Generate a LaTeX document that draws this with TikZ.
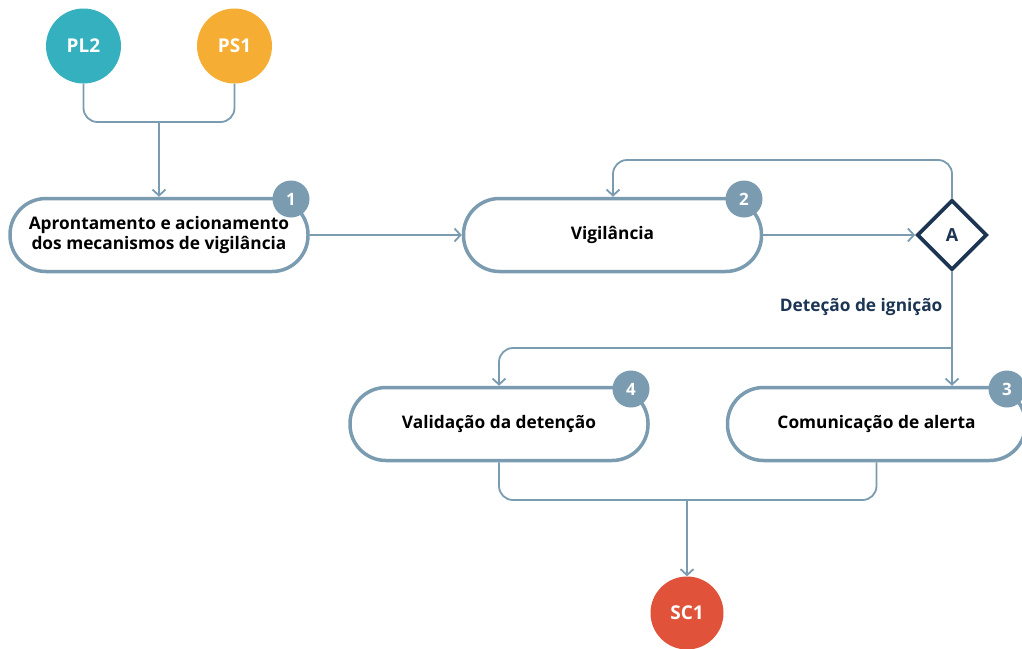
\documentclass[tikz,border=0pt]{standalone}
\usepackage{fontspec}
\setmainfont{Open Sans}[BoldFont={* Bold}]
\usetikzlibrary{arrows.meta,shapes.geometric}
\definecolor{slate}{HTML}{7A9BB0}
\definecolor{navy}{HTML}{1C3553}
\definecolor{teal}{HTML}{34B0BF}
\definecolor{orng}{HTML}{F5AD33}
\definecolor{redd}{HTML}{E0533A}
\tikzset{
  stepbox/.style={draw=slate, line width=3.5pt, fill=white, rounded corners=36pt,
    minimum width=298pt, minimum height=73pt, align=center, font=\bfseries\fontsize{17.3}{21}\selectfont, text=black, inner sep=0pt},
  badge/.style={circle, fill=slate, minimum size=37pt, inner sep=0pt, text=white, font=\bfseries\fontsize{17}{17}\selectfont},
  term/.style={circle, minimum size=75pt, inner sep=0pt, text=white, font=\bfseries\fontsize{19}{19}\selectfont},
  conn/.style={draw=slate, line width=1.8pt, rounded corners=14pt},
  arr/.style={-{Straight Barb[length=6pt,width=13pt,line width=1.8pt]}},
  dec/.style={diamond, draw=navy, line width=3.8pt, fill=white, minimum width=70pt, minimum height=70pt, inner sep=0pt, text=navy, font=\bfseries\fontsize{18}{18}\selectfont}
}
\begin{document}
\begin{tikzpicture}[x=1pt,y=-1pt]
\useasboundingbox (0,0) rectangle (1022,648);
\begin{scope}
\clip (0,0) rectangle (1022,648);
% terminals
\node[term, fill=teal] (pl2) at (83.5,46) {PL2};
\node[term, fill=orng] (ps1) at (234.5,46) {PS1};
\node[term, fill=redd, minimum size=73pt] (sc1) at (687,613) {SC1};
% boxes
\node[stepbox] (b1) at (159,235) {\raisebox{-1.5pt}{\begin{tabular}{@{}c@{}}Aprontamento e acionamento\\[-1pt]dos mecanismos de vigilância\end{tabular}}};
\node[stepbox] (b2) at (612.5,235) {\raisebox{-2pt}{Vigilância}};
\node[stepbox] (b4) at (499,424) {\raisebox{-2pt}{Validação da detenção}};
\node[stepbox] (b3) at (876.5,424) {\raisebox{-2pt}{Comunicação de alerta}};
\node[dec] (a) at (952,235) {A};
% badges
\node[badge] (n1) at (291,199) {1};
\node[badge] (n2) at (744,199) {2};
\node[badge] (n4) at (631,389) {4};
\node[badge] (n3) at (1007,389) {3};
% connectors
\coordinate (j1) at (159,122);
\draw[conn] (pl2.south) |- (j1) -| (ps1.south);
\draw[conn,arr] (j1) -- (b1.north);
\draw[conn,arr] (b1.east) -- (b2.west);
\draw[conn,arr] (b2.east) -- (a.west);
\coordinate (lp) at (613,160);
\draw[conn,arr] (a.north) |- (lp) -- ([xshift=0.5pt]b2.north);
\draw[conn,arr] (a.south) -- (a.south |- b3.north);
\coordinate (br) at (952,348);
\draw[conn,arr] (br) -| (b4.north);
\node[anchor=east, text=navy, font=\bfseries\fontsize{17.3}{17}\selectfont] (lbl) at (946,307) {Deteção de ignição};
\coordinate (j2) at (687,500);
\draw[conn] (b4.south) |- (j2) -| (b3.south);
\draw[conn,arr] (j2) -- (sc1.north);
\end{scope}
\end{tikzpicture}
\end{document}
